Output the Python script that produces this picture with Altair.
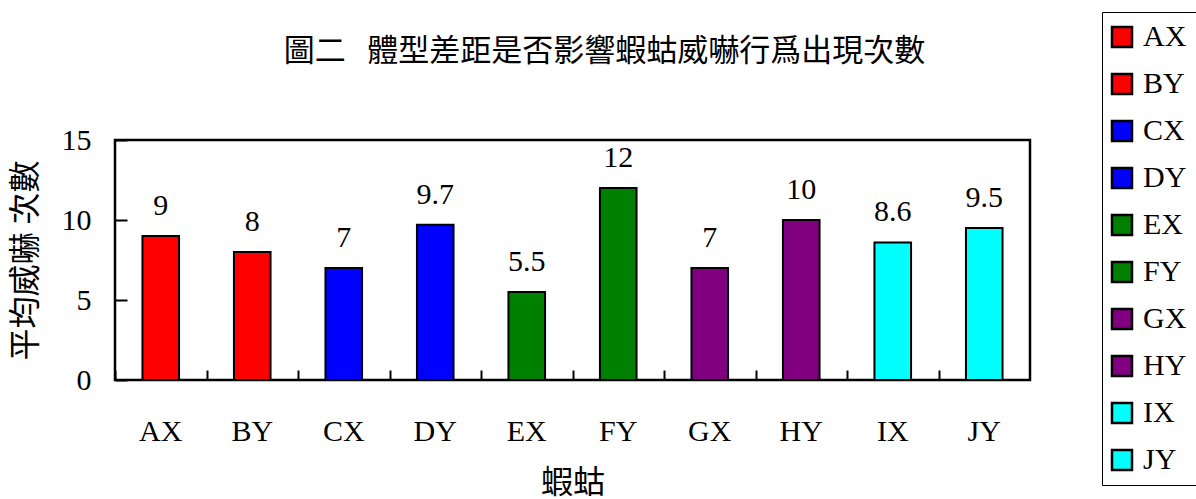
import altair as alt
import pandas as pd

categories = ["AX", "BY", "CX", "DY", "EX", "FY", "GX", "HY", "IX", "JY"]
values = [9, 8, 7, 9.7, 5.5, 12, 7, 10, 8.6, 9.5]
colors = ["#FF0000", "#FF0000", "#0000FF", "#0000FF", "#008000", "#008000",
          "#800080", "#800080", "#00FFFF", "#00FFFF"]

df = pd.DataFrame({"cat": categories, "val": values})

FONT = "Liberation Serif, Noto Sans CJK TC"
FS = 30

x_main = alt.X("cat:N", sort=categories, title="蝦蛄",
               scale=alt.Scale(paddingInner=0.6, paddingOuter=0.3),
               axis=alt.Axis(labelAngle=0, ticks=False, domain=False,
                             labelPadding=36, titlePadding=21,
                             labelFontSize=FS, titleFontSize=32,
                             labelFont=FONT, titleFont=FONT,
                             titleFontWeight="normal", labelColor="black",
                             titleColor="black"))
y_main = alt.Y("val:Q", title="平均威嚇 次數",
               scale=alt.Scale(domain=[0, 15]),
               axis=alt.Axis(values=[0, 5, 10, 15], ticks=False, domain=False,
                             grid=False, labelPadding=24, titlePadding=19,
                             labelFontSize=FS, titleFontSize=32,
                             labelFont=FONT, titleFont=FONT,
                             titleFontWeight="normal", labelColor="black",
                             titleColor="black"))

bars = alt.Chart(df).mark_bar(stroke="black", strokeWidth=2).encode(
    x=x_main,
    y=y_main,
    fill=alt.Fill("cat:N", sort=categories,
                  scale=alt.Scale(domain=categories, range=colors),
                  legend=alt.Legend(title=None, orient="none", legendX=987,
                                    legendY=-128, strokeColor="black",
                                    padding=10, symbolType="square",
                                    symbolSize=400, symbolStrokeColor="black",
                                    symbolStrokeWidth=2.5, symbolOpacity=1,
                                    symbolOffset=-5,
                                    labelFontSize=FS, labelFont=FONT,
                                    labelColor="black", rowPadding=17,
                                    labelOffset=6)),
)

labels = alt.Chart(df).mark_text(baseline="bottom", dy=-15, fontSize=FS,
                                 font=FONT, color="black").encode(
    x=alt.X("cat:N", sort=categories,
            axis=alt.Axis(orient="top", offset=-240, labels=False, domain=False,
                          title=None, ticks=True, tickOffset=-45.75,
                          tickSize=10, tickWidth=2, tickColor="black")),
    y=alt.Y("val:Q", scale=alt.Scale(domain=[0, 15]),
            axis=alt.Axis(orient="right", offset=-915, labels=False,
                          domain=False, title=None, grid=False,
                          values=[0, 5, 10, 15], tickSize=12, tickWidth=2,
                          tickColor="black")),
    text=alt.Text("val:Q"),
)

chart = alt.layer(bars, labels).resolve_axis(x="independent", y="independent").properties(
    width=915, height=240,
    autosize=alt.AutoSizeParams(type="none"),
    padding={"left": 115, "top": 140, "right": 166, "bottom": 119},
    background="white",
    title=alt.TitleParams("圖二\u00a0\u00a0\u2009體型差距是否影響蝦蛄威嚇行爲出現次數",
                          fontSize=31, font=FONT, fontWeight="normal",
                          color="black", offset=-56, dx=32, anchor="middle",
                          frame="group"),
).configure_view(stroke="black", strokeWidth=2.5)

chart.save("out.html", embed_options={"renderer": "svg", "actions": False})
